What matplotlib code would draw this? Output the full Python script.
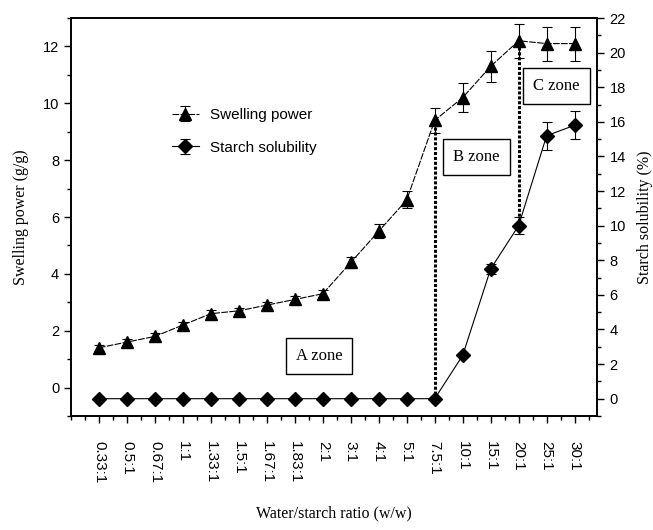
import matplotlib
matplotlib.use("Agg")
import matplotlib.pyplot as plt
from matplotlib.ticker import MultipleLocator, AutoMinorLocator

ratios = ["0.33:1", "0.5:1", "0.67:1", "1:1", "1.33:1", "1.5:1", "1.67:1", "1.83:1", "2:1",
          "3:1", "4:1", "5:1", "7.5:1", "10:1", "15:1", "20:1", "25:1", "30:1"]
swelling = [1.4, 1.6, 1.8, 2.2, 2.6, 2.7, 2.9, 3.1, 3.3, 4.4, 5.5, 6.6, 9.4, 10.2, 11.3, 12.2, 12.1, 12.1]
swelling_err = [0.1, 0.1, 0.12, 0.1, 0.12, 0.1, 0.12, 0.12, 0.12, 0.2, 0.25, 0.3, 0.45, 0.5, 0.55, 0.6, 0.6, 0.6]
solubility = [0, 0, 0, 0, 0, 0, 0, 0, 0, 0, 0, 0, 0, 2.5, 7.5, 10.0, 15.2, 15.8]
solubility_err = [0, 0, 0, 0, 0, 0, 0, 0, 0, 0, 0, 0, 0, 0.1, 0.3, 0.5, 0.8, 0.8]

# zone boundaries (index into ratios)
boundaries = [12, 15]

sans = ["Liberation Sans", "DejaVu Sans"]
serif = ["Liberation Serif", "DejaVu Serif"]

fig = plt.figure(figsize=(6.53, 5.3), dpi=100)
ax = fig.add_axes([0.1087, 0.2151, 0.8055, 0.7509])
ax2 = ax.twinx()

x = list(range(len(ratios)))
ax.errorbar(x, swelling, yerr=swelling_err, color="k", lw=0.8, ls=(0, (6, 1.2)),
            marker="^", ms=8, capsize=3.5, elinewidth=0.8, capthick=0.8,
            label="Swelling power", zorder=3)
ax2.errorbar(x, solubility, yerr=solubility_err, color="k", lw=0.8,
             marker="D", ms=7, capsize=3.5, elinewidth=0.8, capthick=0.8,
             label="Starch solubility", zorder=3)

ylo, yhi = -1, 13
y2lo, y2hi = -1, 22
ax.set_ylim(ylo, yhi)
ax2.set_ylim(y2lo, y2hi)
ax.set_xlim(-1, 17.8)

# dotted separators from solubility point up to swelling point
for b in boundaries:
    y_from = ylo + (solubility[b] - y2lo) / (y2hi - y2lo) * (yhi - ylo)
    ax.plot([b, b], [y_from, swelling[b]], color="k", lw=2.2, ls=(0, (1, 0.6)), zorder=2)

box = dict(boxstyle="square,pad=0.6", fc="white", ec="k", lw=1.0)
ax.text(7.87, 1.12, "A zone", ha="center", va="center", fontsize=12, family=serif, bbox=box)
ax.text(13.5, 8.1, "B zone", ha="center", va="center", fontsize=12, family=serif, bbox=box)
ax.text(16.35, 10.6, "C zone", ha="center", va="center", fontsize=12, family=serif, bbox=box)

ax.set_xticks(x)
ax.set_xticklabels(ratios, rotation=270, family=sans, fontsize=11)
ax.xaxis.set_minor_locator(AutoMinorLocator(2))
ax.yaxis.set_major_locator(MultipleLocator(2))
ax.yaxis.set_minor_locator(MultipleLocator(1))
ax2.yaxis.set_major_locator(MultipleLocator(2))
ax2.yaxis.set_minor_locator(MultipleLocator(1))

for a in (ax, ax2):
    a.tick_params(which="major", direction="out", length=5, width=1.0, labelsize=10.5)
    a.tick_params(which="minor", direction="out", length=3, width=1.0)
    for lab in a.get_yticklabels():
        lab.set_family(sans)
    for s in a.spines.values():
        s.set_linewidth(1.2)
ax.tick_params(axis="x", pad=13, labelsize=11)
ax2.tick_params(axis="y", pad=4)

ax.set_ylabel("Swelling power (g/g)", family=serif, fontsize=11.5, labelpad=10)
ax2.set_ylabel("Starch solubility (%)", family=serif, fontsize=11.5, labelpad=8)
ax.set_xlabel("Water/starch ratio (w/w)", family=serif, fontsize=11.5, labelpad=16)

h1, l1 = ax.get_legend_handles_labels()
h2, l2 = ax2.get_legend_handles_labels()
leg = ax.legend(h1 + h2, l1 + l2, loc="upper left", bbox_to_anchor=(0.165, 0.808),
                frameon=False, prop={"family": sans, "size": 11},
                handlelength=1.8, handletextpad=0.7, labelspacing=1.2)

fig.savefig("out.png", dpi=100)
